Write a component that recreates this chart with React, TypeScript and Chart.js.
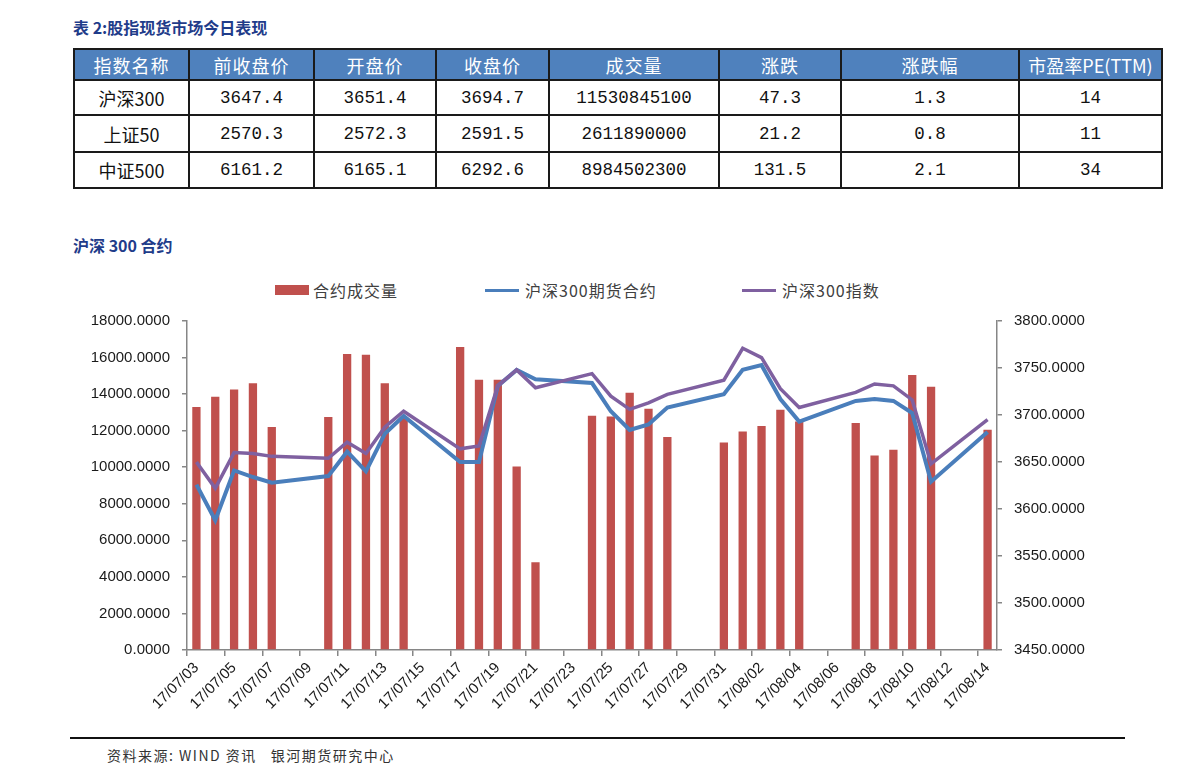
import React, { useEffect, useRef } from 'react';
import { Chart, registerables } from 'chart.js';

Chart.register(...registerables);

// ---------- table data ----------
const tableHeader = ['指数名称', '前收盘价', '开盘价', '收盘价', '成交量', '涨跌', '涨跌幅', '市盈率PE(TTM)'];
const rowHS300 = ['沪深300', '3647.4', '3651.4', '3694.7', '11530845100', '47.3', '1.3', '14'];
const rowSZ50 = ['上证50', '2570.3', '2572.3', '2591.5', '2611890000', '21.2', '0.8', '11'];
const rowZZ500 = ['中证500', '6161.2', '6165.1', '6292.6', '8984502300', '131.5', '2.1', '34'];
const tableRows = [rowHS300, rowSZ50, rowZZ500];

// ---------- chart data ----------
const dates = [
  '17/07/03', '17/07/04', '17/07/05', '17/07/06', '17/07/07', '17/07/08', '17/07/09',
  '17/07/10', '17/07/11', '17/07/12', '17/07/13', '17/07/14', '17/07/15', '17/07/16',
  '17/07/17', '17/07/18', '17/07/19', '17/07/20', '17/07/21', '17/07/22', '17/07/23',
  '17/07/24', '17/07/25', '17/07/26', '17/07/27', '17/07/28', '17/07/29', '17/07/30',
  '17/07/31', '17/08/01', '17/08/02', '17/08/03', '17/08/04', '17/08/05', '17/08/06',
  '17/08/07', '17/08/08', '17/08/09', '17/08/10', '17/08/11', '17/08/12', '17/08/13',
  '17/08/14',
];

const volume = [
  13300, 13850, 14250, 14600, 12200, null, null,
  12750, 16200, 16150, 14600, 12700, null, null,
  16580, 14780, 14780, 10040, 4800, null, null,
  12820, 12770, 14070, 13200, 11650, null, null,
  11350, 11950, 12250, 13150, 12500, null, null,
  12420, 10640, 10950, 15050, 14400, null, null,
  12050,
];

const futures = [
  3626, 3588, 3641, 3634, 3628, null, null,
  3635, 3661, 3640, 3680, 3699, null, null,
  3650, 3650, 3731, 3748, 3738, null, null,
  3734, 3704, 3684, 3690, 3708, null, null,
  3722, 3748, 3753, 3717, 3693, null, null,
  3715, 3717, 3715, 3702, 3629, null, null,
  3682,
];

const index300 = [
  3650, 3622, 3660, 3659, 3656, null, null,
  3654, 3671, 3659, 3687, 3704, null, null,
  3664, 3667, 3731, 3748, 3729, null, null,
  3744, 3720, 3706, 3713, 3722, null, null,
  3737, 3771, 3761, 3728, 3708, null, null,
  3724, 3733, 3731, 3716, 3648, null, null,
  3695,
];

const seriesNames = ['合约成交量', '沪深300期货合约', '沪深300指数'];
const seriesColors = ['#C0504D', '#4A7EBB', '#7F60A0'];

const AXIS_GRAY = '#868686';
const TICK_FONT = { family: "'Liberation Sans', Arial, sans-serif", size: 15 };

const colWidths = [115, 125, 122, 113, 170, 122, 178, 143];
const rowHeights = [35, 37, 36];

export default function App() {
  const canvasRef = useRef<HTMLCanvasElement | null>(null);

  useEffect(() => {
    if (!canvasRef.current) return;
    const chart = new Chart(canvasRef.current, {
      type: 'bar',
      data: {
        labels: dates,
        datasets: [
          {
            type: 'bar',
            label: seriesNames[0],
            data: volume,
            backgroundColor: seriesColors[0],
            yAxisID: 'y',
            order: 2,
            barPercentage: 0.44,
            categoryPercentage: 1,
          },
          {
            type: 'line',
            label: seriesNames[1],
            data: futures,
            borderColor: seriesColors[1],
            backgroundColor: seriesColors[1],
            borderWidth: 4,
            pointRadius: 0,
            spanGaps: true,
            tension: 0,
            yAxisID: 'y1',
            order: 1,
          },
          {
            type: 'line',
            label: seriesNames[2],
            data: index300,
            borderColor: seriesColors[2],
            backgroundColor: seriesColors[2],
            borderWidth: 3.5,
            pointRadius: 0,
            spanGaps: true,
            tension: 0,
            yAxisID: 'y1',
            order: 0,
          },
        ],
      } as any,
      options: {
        animation: false,
        responsive: false,
        maintainAspectRatio: false,
        layout: { padding: { top: 20, left: 0, right: 0, bottom: 0 } },
        plugins: {
          legend: { display: false },
          tooltip: { enabled: false },
        },
        scales: {
          x: {
            offset: true,
            grid: {
              offset: true,
              drawOnChartArea: false,
              drawTicks: true,
              tickLength: 6,
              lineWidth: 1.5,
              color: (ctx: any) => (ctx.index % 2 === 0 ? AXIS_GRAY : 'rgba(0,0,0,0)'),
            },
            border: { color: AXIS_GRAY, width: 1.5 },
            ticks: {
              autoSkip: false,
              maxRotation: 45,
              minRotation: 45,
              padding: 3,
              color: '#1a1a1a',
              font: TICK_FONT,
              callback: (_v: any, i: number) => (i % 2 === 0 ? dates[i] : ''),
            },
            afterFit: (s: any) => {
              s.height = 80;
            },
          },
          y: {
            position: 'left',
            min: 0,
            max: 18000,
            grid: { drawOnChartArea: false, tickLength: 5, color: AXIS_GRAY, lineWidth: 1.5 },
            border: { color: AXIS_GRAY, width: 1.5 },
            ticks: {
              stepSize: 2000,
              padding: 12,
              color: '#1a1a1a',
              font: TICK_FONT,
              callback: (v: any) => Number(v).toFixed(4),
            },
            afterFit: (s: any) => {
              s.width = 127;
            },
          },
          y1: {
            position: 'right',
            min: 3450,
            max: 3800,
            grid: { drawOnChartArea: false, tickLength: 5, color: AXIS_GRAY, lineWidth: 1.5 },
            border: { color: AXIS_GRAY, width: 1.5 },
            ticks: {
              stepSize: 50,
              padding: 12,
              color: '#1a1a1a',
              font: TICK_FONT,
              callback: (v: any) => Number(v).toFixed(4),
            },
            afterFit: (s: any) => {
              s.width = 133;
            },
          },
        },
      } as any,
    });
    return () => chart.destroy();
  }, []);

  const cjk = "'Noto Sans CJK SC', 'Noto Sans', sans-serif";
  const mono = "'Liberation Mono', 'DejaVu Sans Mono', monospace";
  const border = '2px solid #1a1a1a';
  const titleStyle: React.CSSProperties = {
    position: 'absolute',
    left: 65,
    fontFamily: cjk,
    fontWeight: 700,
    fontSize: 16,
    lineHeight: '22px',
    color: '#1F3C8A',
    whiteSpace: 'nowrap',
  };

  const legendItem = (i: number, markLeft: number, textLeft: number) => (
    <React.Fragment key={i}>
      <div
        style={{
          position: 'absolute',
          left: markLeft - 8,
          top: i === 0 ? 285 - 8 : 289 - 8,
          width: 34,
          height: i === 0 ? 10 : 3,
          background: seriesColors[i],
        }}
      />
      <div
        style={{
          position: 'absolute',
          left: textLeft - 8,
          top: 290 - 8 - 12,
          fontFamily: cjk,
          fontSize: 16,
          lineHeight: '24px',
          letterSpacing: 1,
          color: '#404040',
          whiteSpace: 'nowrap',
        }}
      >
        {seriesNames[i]}
      </div>
    </React.Fragment>
  );

  return (
    <div style={{ position: 'relative', width: 1175, height: 768, background: '#fff' }}>
      <div style={{ ...titleStyle, top: 27 - 8 - 11 }}>表 2:股指现货市场今日表现</div>

      <table
        style={{
          position: 'absolute',
          left: 65,
          top: 40,
          borderCollapse: 'collapse',
          tableLayout: 'fixed',
          width: colWidths.reduce((a, b) => a + b, 0),
          border,
        }}
      >
        <colgroup>
          {colWidths.map((w, i) => (
            <col key={i} style={{ width: w }} />
          ))}
        </colgroup>
        <thead>
          <tr style={{ height: 31 }}>
            {tableHeader.map((h, i) => (
              <th
                key={i}
                style={{
                  border,
                  background: '#4F81BD',
                  color: '#fff',
                  fontFamily: cjk,
                  fontWeight: 400,
                  fontSize: 18,
                  padding: 0,
                  textAlign: 'center',
                  letterSpacing: i === 7 ? 0 : 1,
                }}
              >
                {h}
              </th>
            ))}
          </tr>
        </thead>
        <tbody>
          {tableRows.map((row, r) => (
            <tr key={r} style={{ height: rowHeights[r] }}>
              {row.map((c, i) => (
                <td
                  key={i}
                  style={{
                    border,
                    padding: 0,
                    textAlign: 'center',
                    color: '#111',
                    fontFamily: i === 0 ? cjk : mono,
                    fontSize: i === 0 ? 18 : 17.5,
                  }}
                >
                  {c}
                </td>
              ))}
            </tr>
          ))}
        </tbody>
      </table>

      <div style={{ ...titleStyle, top: 245 - 8 - 11 }}>沪深 300 合约</div>

      {legendItem(0, 275, 313)}
      {legendItem(1, 485, 525)}
      {legendItem(2, 742, 782)}

      <canvas
        ref={canvasRef}
        width={1070}
        height={430}
        style={{ position: 'absolute', left: 52, top: 292, width: 1070, height: 430 }}
      />

      <div
        style={{
          position: 'absolute',
          left: 62,
          top: 737 - 8,
          width: 1055,
          height: 2,
          background: '#111',
        }}
      />
      <div
        style={{
          position: 'absolute',
          left: 107 - 8,
          top: 755 - 8 - 10,
          fontFamily: cjk,
          fontSize: 14,
          lineHeight: '20px',
          color: '#333',
          letterSpacing: 1.5,
          whiteSpace: 'nowrap',
        }}
      >
        资料来源: WIND 资讯&nbsp;&nbsp;&nbsp;银河期货研究中心
      </div>
    </div>
  );
}
